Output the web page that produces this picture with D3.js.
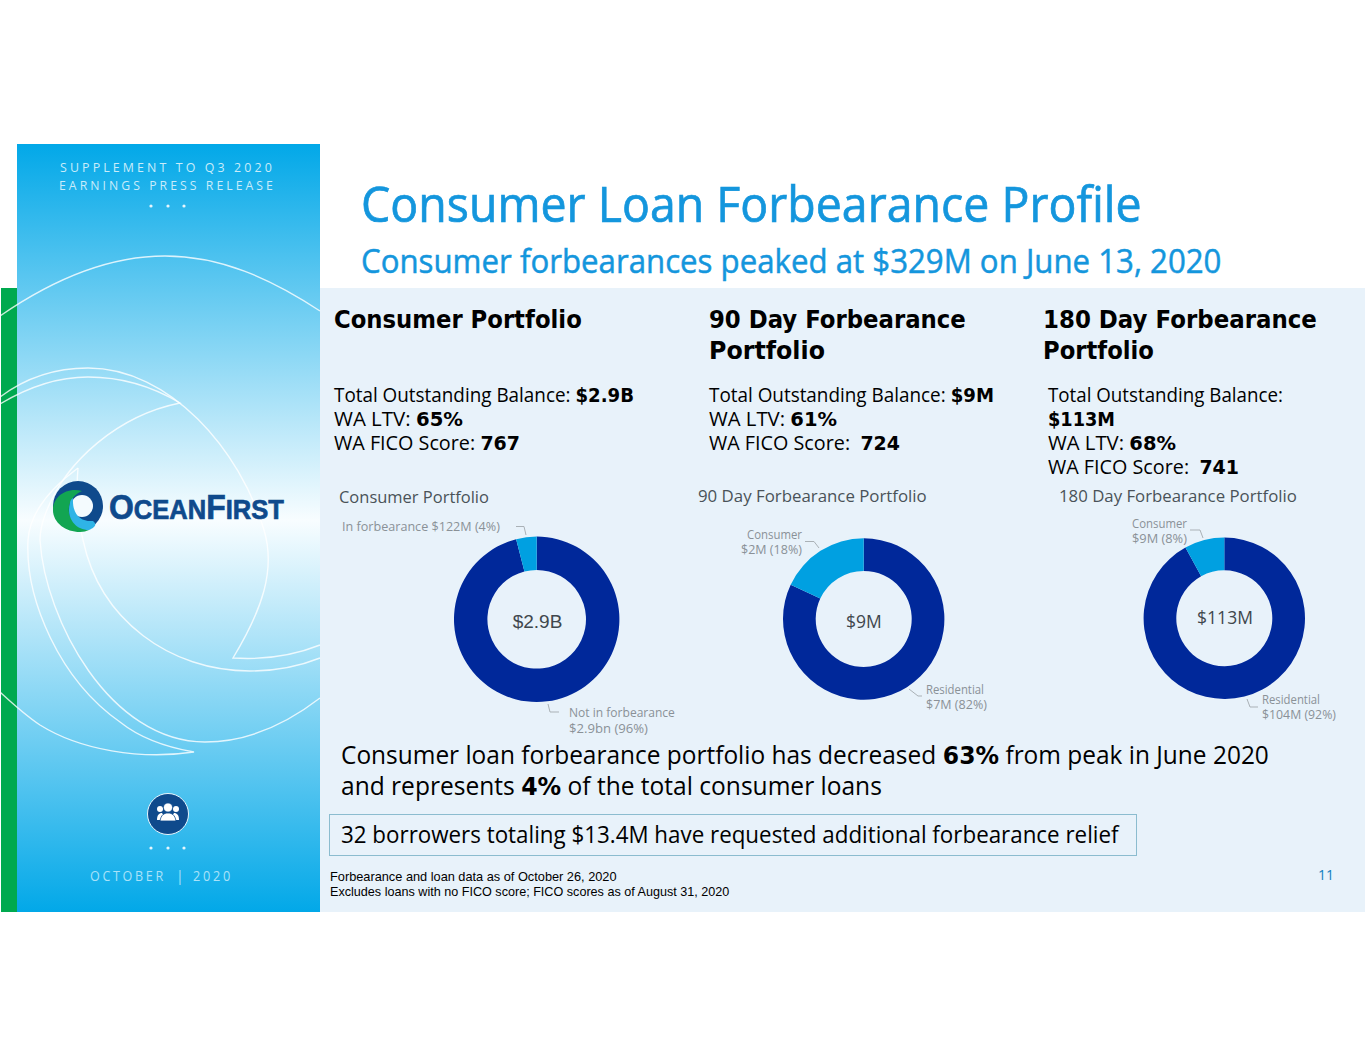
<!DOCTYPE html>
<html>
<head>
<meta charset="utf-8">
<script src="https://d3js.org/d3.v7.min.js"></script>
<style>
body { margin: 0; background: #fff; }
svg { display: block; }
text { white-space: pre; }
</style>
</head>
<body>
<div id="chart"></div>
<script>
// Chart data
let chartTitles = ["Consumer Portfolio", "90 Day Forbearance Portfolio", "180 Day Forbearance Portfolio"];
let centerLabels = ["$2.9B", "$9M", "$113M"];
let darkShares = [96, 82, 92];
let lightShares = [4, 18, 8];
let darkLabels = [["Not in forbearance", "$2.9bn (96%)"], ["Residential", "$7M (82%)"], ["Residential", "$104M (92%)"]];
let lightLabels = [["In forbearance $122M (4%)"], ["Consumer", "$2M (18%)"], ["Consumer", "$9M (8%)"]];

var width = 1365, height = 1055;
var svg = d3.select("#chart").append("svg")
    .attr("width", width)
    .attr("height", height);

var defs = svg.append("defs");
var grad = defs.append("linearGradient")
    .attr("id", "sideFill")
    .attr("x1", 0).attr("x2", 0).attr("y1", 0).attr("y2", 1);
grad.append("stop").attr("offset", "0%").attr("stop-color", "#02a8e8");
grad.append("stop").attr("offset", "49%").attr("stop-color", "#f8fdff");
grad.append("stop").attr("offset", "100%").attr("stop-color", "#02a8e8");

// background panels
svg.append("rect").attr("x", 320).attr("y", 288).attr("width", 1045).attr("height", 624).attr("fill", "#e8f2fa");
svg.append("rect").attr("x", 1).attr("y", 288).attr("width", 16).attr("height", 624).attr("fill", "#00a94f");
svg.append("rect").attr("x", 17).attr("y", 144).attr("width", 303).attr("height", 768).attr("fill", "url(#sideFill)");

// white swoosh lines on the sidebar
var swooshes = [
    "M0,316 C55,278 110,256 165,256 C220,256 270,278 320,311",
    "M0,397 C28,376 60,368 88,368 C170,368 240,450 264,530 C276,570 262,610 233,658 C265,660 295,655 320,645",
    "M0,404 C30,386 60,377 88,377 C125,377 155,388 180,403 C120,415 65,460 45,515 C41,526 40,534 40,540 C45,620 110,742 205,742 C245,742 285,725 320,698",
    "M78,468 C55,485 30,510 28,540 C25,600 60,680 120,722 C140,738 165,747 194,752 C140,760 80,750 40,725 C25,715 12,703 0,692",
    "M78,468 C76,490 78,520 83,540 C100,620 170,671 250,671 C275,671 300,666 320,658"
];
svg.append("g").selectAll("path")
    .data(swooshes)
    .enter()
    .append("path")
    .attr("d", function (d) { return d; })
    .attr("fill", "none")
    .attr("stroke", "#ffffff")
    .attr("stroke-opacity", 0.8)
    .attr("stroke-width", 1.4);

// draws one line of text, parts are strings or {b: "bold part"}, squeezed sideways to the width in fit
function label(x, y, parts, size, family, fill, fit, spacing) {
    var pieces = parts.map(function (p) {
        var bold = typeof p !== "string";
        var t = svg.append("text")
            .attr("font-size", bold ? size * 0.96 : size)
            .attr("font-family", bold ? "'DejaVu Sans'" : family)
            .attr("font-weight", bold ? "bold" : "normal")
            .attr("fill", fill)
            .text(bold ? p.b : p);
        if (spacing) t.attr("letter-spacing", spacing);
        return { t: t, len: t.node().getComputedTextLength() };
    });
    var total = d3.sum(pieces, function (d) { return d.len; });
    var scale = fit ? fit / total : 1;
    var cx = x;
    pieces.forEach(function (d) {
        d.t.attr("transform", "translate(" + cx + "," + y + ") scale(" + scale + ",1)");
        cx += d.len * scale;
    });
    return pieces[0].t;
}

var openSans = "'Open Sans', sans-serif";
var dejavu = "'DejaVu Sans', sans-serif";
var arial = "'Liberation Sans', sans-serif";

// sidebar texts
label(60, 172, ["SUPPLEMENT TO Q3 2020"], 12, openSans, "#c9ecfa", 215, 3);
label(59, 190, ["EARNINGS PRESS RELEASE"], 12, openSans, "#c9ecfa", 217, 3);
label(90, 881, ["OCTOBER"], 14, openSans, "#a9e2f9", 76, 3);
label(176, 881, ["|"], 14, openSans, "#a9e2f9");
label(193, 881, ["2020"], 14, openSans, "#a9e2f9", 40, 3);
[[151, 206], [168, 206], [184, 206], [151, 848], [168, 848], [184, 848]].forEach(function (p) {
    svg.append("circle").attr("cx", p[0]).attr("cy", p[1]).attr("r", 1.6).attr("fill", "#e6f6fd");
});

// logo
var logo = svg.append("g");
logo.append("circle").attr("cx", 78).attr("cy", 506).attr("r", 25).attr("fill", "#0f4a8c");
logo.append("path").attr("d", "M82,491 C66,487 53,497 53,510 C53,523 66,532 80,532 C84,532 86,531 89,530 C76,527 67,518 69,507 C70,500 75,494 82,491Z").attr("fill", "#12a552");
logo.append("circle").attr("cx", 82).attr("cy", 506).attr("r", 11).attr("fill", "#f4fbfe");
logo.append("path").attr("d", "M70,503 C66,516 74,530 89,530 C94,528 98,525 93,521 C82,522 72,516 73,498 C71,499 70,501 70,503Z").attr("fill", "#2fb4e6");
var logoText = svg.append("text")
    .attr("font-family", arial).attr("font-weight", "bold").attr("fill", "#0f4a8c")
    .attr("stroke", "#0f4a8c").attr("stroke-width", 0.7);
[["O", 35], ["CEAN", 28], ["F", 35], ["IRST", 28]].forEach(function (p) {
    logoText.append("tspan").text(p[0]).attr("font-size", p[1]);
});
logoText.attr("transform", "translate(109,519) scale(" + (175 / logoText.node().getComputedTextLength()) + ",1)");

// people icon
svg.append("circle").attr("cx", 168).attr("cy", 814).attr("r", 20.5).attr("fill", "#0f4a8c").attr("stroke", "#e8f6fd").attr("stroke-width", 1);
[[160, 809, 3], [176, 809, 3]].forEach(function (p) {
    svg.append("circle").attr("cx", p[0]).attr("cy", p[1]).attr("r", p[2]).attr("fill", "#fff");
});
["M157,820 C157,815 159,813 162,813 L166,820Z", "M179,820 C179,815 177,813 174,813 L170,820Z"].forEach(function (d) {
    svg.append("path").attr("d", d).attr("fill", "#fff");
});
svg.append("circle").attr("cx", 168).attr("cy", 807.5).attr("r", 4.6).attr("fill", "#fff").attr("stroke", "#0f4a8c").attr("stroke-width", 0.8);
svg.append("path").attr("d", "M160,821 C161,815 164,813 168,813 C172,813 175,815 176,821Z").attr("fill", "#fff").attr("stroke", "#0f4a8c").attr("stroke-width", 0.8);

// title
label(361, 222, ["Consumer Loan Forbearance Profile"], 50, openSans, "#1496dd", 781).attr("stroke", "#1496dd").attr("stroke-width", 0.7);
label(361, 273, ["Consumer forbearances peaked at $329M on June 13, 2020"], 33, openSans, "#1496dd", 861).attr("stroke", "#1496dd").attr("stroke-width", 0.5);

// column headers
label(334, 328, [{b: "Consumer Portfolio"}], 25, dejavu, "#000", 248);
label(709, 328, [{b: "90 Day Forbearance"}], 25, dejavu, "#000", 257);
label(709, 359, [{b: "Portfolio"}], 25, dejavu, "#000", 116);
label(1043, 328, [{b: "180 Day Forbearance"}], 25, dejavu, "#000", 274);
label(1043, 359, [{b: "Portfolio"}], 25, dejavu, "#000", 111);

// column stats
var stats = [
    [334, 402, ["Total Outstanding Balance: ", {b: "$2.9B"}], 300],
    [334, 426, ["WA LTV: ", {b: "65%"}], 129],
    [334, 450, ["WA FICO Score: ", {b: "767"}], 186],
    [709, 402, ["Total Outstanding Balance: ", {b: "$9M"}], 285],
    [709, 426, ["WA LTV: ", {b: "61%"}], 128],
    [709, 450, ["WA FICO Score:  ", {b: "724"}], 191],
    [1048, 402, ["Total Outstanding Balance:"], 235],
    [1048, 426, [{b: "$113M"}], 67],
    [1048, 450, ["WA LTV: ", {b: "68%"}], 128],
    [1048, 474, ["WA FICO Score:  ", {b: "741"}], 191]
];
stats.forEach(function (s) {
    label(s[0], s[1], s[2], 20, openSans, "#000", s[3]);
});

// donuts
var centers = [
    { x: 536.7, y: 619.3, r: 82.7, ir: 49.3 },
    { x: 863.7, y: 619, r: 80.7, ir: 48 },
    { x: 1224.3, y: 618.3, r: 80.7, ir: 48 }
];
var titlePos = [[339, 503, 150], [698, 502, 229], [1059, 502, 238]];
var centerText = [[537.5, 628, arial, 19], [864, 627.5, openSans, 17.5], [1225, 623.5, openSans, 17.5]];
var colors = d3.scaleOrdinal().domain(["dark", "light"]).range(["#00289a", "#00a0e1"]);
var pie = d3.pie().sort(null).value(function (d) { return d.share; });

chartTitles.forEach(function (title, i) {
    var c = centers[i];
    var arc = d3.arc().innerRadius(c.ir).outerRadius(c.r);
    var rows = [{ key: "dark", share: darkShares[i] }, { key: "light", share: lightShares[i] }];
    svg.append("g")
        .attr("transform", "translate(" + c.x + "," + c.y + ")")
        .selectAll("path")
        .data(pie(rows))
        .enter()
        .append("path")
        .attr("d", arc)
        .attr("fill", function (d) { return colors(d.data.key); });

    label(titlePos[i][0], titlePos[i][1], [title], 17, openSans, "#4a5258", titlePos[i][2]);
    svg.append("text")
        .attr("x", centerText[i][0]).attr("y", centerText[i][1])
        .attr("text-anchor", "middle")
        .attr("font-family", centerText[i][2])
        .attr("font-size", centerText[i][3])
        .attr("fill", "#3f474d")
        .text(centerLabels[i]);
});

// slice labels and leader lines
var labelPos = [
    { light: [[342, 531, 158]], dark: [[569, 717, 106], [569, 733, 79]] },
    { light: [[747, 539, 55], [741, 554, 61]], dark: [[926, 694, 58], [926, 709, 61]] },
    { light: [[1132, 528, 55], [1132, 543, 55]], dark: [[1262, 704, 58], [1262, 719, 74]] }
];
chartTitles.forEach(function (title, i) {
    lightLabels[i].forEach(function (t, j) {
        var p = labelPos[i].light[j];
        label(p[0], p[1], [t], 12, openSans, "#8a9197", p[2]);
    });
    darkLabels[i].forEach(function (t, j) {
        var p = labelPos[i].dark[j];
        label(p[0], p[1], [t], 12, openSans, "#8a9197", p[2]);
    });
});
var leaders = [
    "M516,526.5 L524,526.5 L526,535",
    "M548,704 L550,712 L559,712",
    "M805,541.5 L814,541.5 L819,548",
    "M909,689 L918,696 L922,696",
    "M1247,699 L1250,707 L1258,707",
    "M1190,530 L1200,530 L1203,538"
];
svg.append("g").selectAll("path")
    .data(leaders)
    .enter()
    .append("path")
    .attr("d", function (d) { return d; })
    .attr("fill", "none")
    .attr("stroke", "#aab1b6")
    .attr("stroke-width", 1);

// summary text
label(341, 764, ["Consumer loan forbearance portfolio has decreased ", {b: "63%"}, " from peak in June 2020"], 25, openSans, "#000", 928);
label(341, 795, ["and represents ", {b: "4%"}, " of the total consumer loans"], 25, openSans, "#000", 541);

svg.append("rect").attr("x", 329.5).attr("y", 814.5).attr("width", 807).attr("height", 41)
    .attr("fill", "#e8f2fa").attr("stroke", "#8bbccf").attr("stroke-width", 1);
label(341, 843, ["32 borrowers totaling $13.4M have requested additional forbearance relief"], 23, openSans, "#000", 778);

// footnotes
label(330, 881, ["Forbearance and loan data as of October 26, 2020"], 12, arial, "#000", 287);
label(330, 896, ["Excludes loans with no FICO score; FICO scores as of August 31, 2020"], 12, arial, "#000", 400);
label(1318, 880, ["11"], 14, openSans, "#0f7fc0");
</script>
</body>
</html>
